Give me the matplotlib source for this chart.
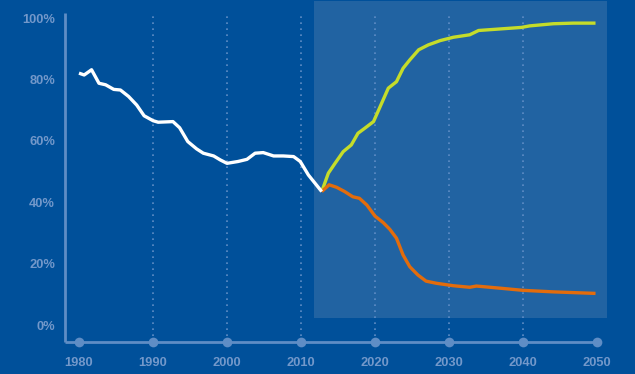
import matplotlib
matplotlib.use("Agg")
import matplotlib.pyplot as plt
from matplotlib.patches import Rectangle

# Historical share (white)
hist_years = [1980, 1980.7, 1981.7, 1982.7, 1983.6, 1984.7, 1985.6, 1986.7, 1987.8,
              1988.8, 1990, 1990.7, 1992.7, 1993.6, 1994.7, 1995.9, 1996.8, 1998.2,
              1999.1, 2000, 2001.5, 2002.7, 2003.8, 2004.9, 2006.3, 2007.6, 2009,
              2009.9, 2011, 2012.8]
hist_values = [82.1, 81.5, 83.2, 78.8, 78.3, 76.8, 76.6, 74.5, 71.7,
               68.2, 66.6, 66.1, 66.3, 64.3, 59.8, 57.4, 56.0, 55.1,
               53.8, 52.7, 53.3, 54.0, 56.0, 56.2, 55.1, 55.1, 54.9,
               53.3, 48.9, 43.5]

# Projection, rising scenario (yellow)
up_years = [2012.8, 2013.7, 2014.6, 2015.7, 2016.8, 2017.7, 2018.6, 2019.8, 2020.7,
            2021.8, 2022.9, 2023.8, 2024.7, 2025.9, 2027.2, 2028.8, 2030.6, 2032.8,
            2034, 2036.9, 2039.8, 2040.9, 2044.1, 2046.8, 2049.8]
up_values = [43.5, 49.5, 52.7, 56.5, 58.7, 62.5, 64.1, 66.3, 71.2,
             77.2, 79.3, 83.7, 86.4, 89.7, 91.3, 92.7, 93.8, 94.6,
             96.0, 96.5, 97.0, 97.5, 98.2, 98.4, 98.4]

# Projection, falling scenario (orange)
down_years = [2012.8, 2013.8, 2014.8, 2015.9, 2017, 2017.9, 2018.9, 2020, 2021.1,
              2022, 2022.9, 2023.8, 2024.7, 2025.8, 2026.9, 2028.3, 2030.6, 2032.8,
              2033.7, 2036.9, 2040, 2044.1, 2049.8]
down_values = [43.5, 45.7, 44.9, 43.5, 41.8, 41.3, 39.1, 35.5, 33.4,
               31.2, 28.3, 22.8, 19.0, 16.3, 14.3, 13.6, 12.8, 12.3,
               12.7, 12.0, 11.3, 10.8, 10.3]

x_ticks = [1980, 1990, 2000, 2010, 2020, 2030, 2040, 2050]
y_ticks = [0, 20, 40, 60, 80, 100]
y_labels = ["0%", "20%", "40%", "60%", "80%", "100%"]

BG = "#00509a"
PANEL = "#2163a2"
AXIS = "#5f8dc5"
TEXT = "#7398ca"

W, H = 635, 374
fig = plt.figure(figsize=(W / 100, H / 100), dpi=100)
fig.patch.set_facecolor(BG)

left_px, right_px, top_px, bottom_px = 64.7, 597, 13, 342
ax = fig.add_axes([left_px / W, 1 - bottom_px / H,
                   (right_px - left_px) / W, (bottom_px - top_px) / H])
ax.set_facecolor("none")
ax.set_xlim(1978.07, 2050)
ax.set_ylim(-5.54, 101.7)

for s in ("top", "right"):
    ax.spines[s].set_visible(False)
for s in ("left", "bottom"):
    ax.spines[s].set_color(AXIS)
    ax.spines[s].set_linewidth(2)
    ax.spines[s].set_capstyle("butt")

# Projection period panel
ax.add_patch(Rectangle((2011.76, 2.28), 2051.35 - 2011.76, 105.6 - 2.28,
                       facecolor=PANEL, edgecolor="none", zorder=0, clip_on=False))

# Dotted decade lines
for yr in x_ticks[1:-1]:
    ax.plot([yr, yr], [-5.54, 101.7], color=AXIS, lw=1.2,
            linestyle=(0, (1, 2.6)), zorder=1)

# Decade markers on the baseline
ax.plot(x_ticks, [-5.54] * len(x_ticks), linestyle="none", marker="o",
        markersize=7, color=AXIS, markeredgewidth=0, clip_on=False, zorder=3)

ax.plot(up_years, up_values, color="#c5dc2a", lw=2.4, solid_joinstyle="round",
        solid_capstyle="butt", zorder=4)
ax.plot(down_years, down_values, color="#e36c0c", lw=2.4, solid_joinstyle="round",
        solid_capstyle="butt", zorder=4)
ax.plot(hist_years, hist_values, color="white", lw=2.4, solid_joinstyle="round",
        solid_capstyle="butt", zorder=5)

ax.set_xticks(x_ticks)
ax.set_xticklabels([str(t) for t in x_ticks])
ax.set_yticks(y_ticks)
ax.set_yticklabels(y_labels)
ax.tick_params(length=0)
ax.tick_params(axis="x", pad=10.8)
ax.tick_params(axis="y", pad=7)
for lbl in ax.get_xticklabels() + ax.get_yticklabels():
    lbl.set_fontfamily("Liberation Sans")
    lbl.set_fontweight("bold")
    lbl.set_fontsize(9.3)
    lbl.set_color(TEXT)

fig.savefig("out.png", dpi=100, facecolor=BG)
